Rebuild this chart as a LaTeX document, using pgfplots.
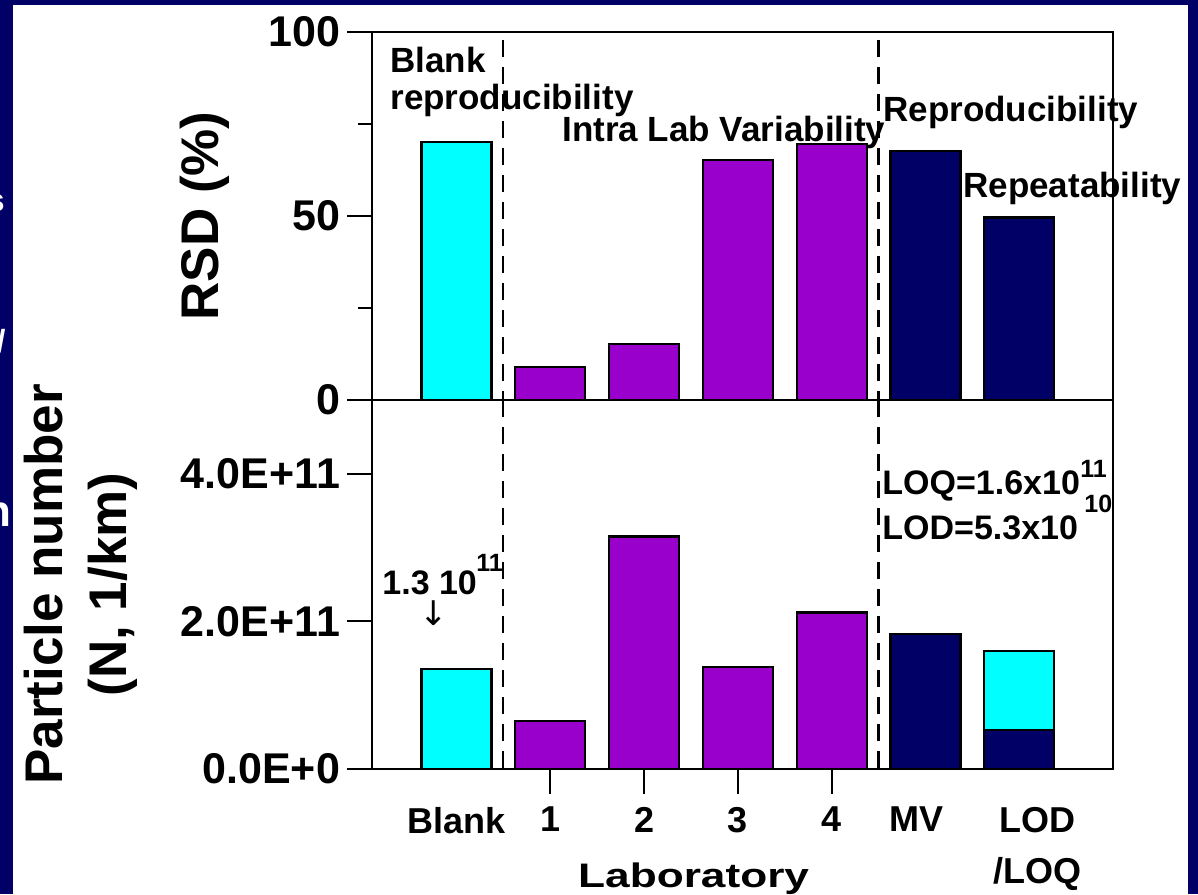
\documentclass[border=0pt]{standalone}
\usepackage{fontspec}
\setmainfont{Liberation Sans}
\newfontfamily\dejavu{DejaVu Sans}
\usepackage{graphicx}
\usepackage{pgfplots}
\pgfplotsset{compat=1.18}
\definecolor{bgnavy}{RGB}{0,0,102}
\definecolor{barnavy}{RGB}{0,0,102}
\definecolor{barcyan}{RGB}{0,255,255}
\definecolor{barpurple}{RGB}{153,0,204}
\newcommand\fs[2]{\fontsize{#1}{#2}\selectfont\bfseries}

\pgfplotsset{
  panel/.style={
    scale only axis, width=370.5pt,
    xmin=-0.9, xmax=7,
    axis line style={line width=1pt},
    tick style={line width=1pt, black},
    tick align=outside,
    major tick length=12.5pt,
    minor tick length=7pt,
    ytick pos=left,
    clip=false,
    scaled y ticks=false,
    /pgf/number format/assume math mode=true,
    ticklabel style={font=\fs{21.5}{24}},
  },
  mybar/.style={ybar, bar width=35pt, bar shift=0pt, draw=black, line width=1.1pt},
}
\tikzset{mydash/.style={line width=1.1pt, dash pattern=on 8.5pt off 5pt}}

\begin{document}
\begin{tikzpicture}
\path[use as bounding box] (0,0) rectangle (599pt,447pt);
\fill[bgnavy] (0,0) rectangle (599pt,447pt);
\fill[white] (6.5pt,0) rectangle (594pt,444.5pt);

% fragments of white text on the left strip
\begin{scope}
\clip (0,0) rectangle (6.5pt,447pt);
\begin{scope}[x=0.5pt,y=-0.5pt,shift={(0,447pt)}]
\node[white, font=\fs{16}{18}, anchor=base east, inner sep=0] at (5,212) {s};
\node[white, font=\fs{16}{18}, anchor=base east, inner sep=0] at (6,353) {/};
\node[white, font=\fs{22}{24}, anchor=base east, inner sep=0] at (12,527) {h};
\end{scope}
\end{scope}

% ---------- top panel: RSD ----------
\begin{axis}[panel, at={(186pt,247pt)}, anchor=south west, height=184pt,
  ymin=0, ymax=100, ytick={0,50,100}, minor ytick={25,75}, xtick=\empty,
  ylabel={RSD (\%)},
  ylabel style={font=\fs{26.5}{30}, at={(axis description cs:-0.2078,0.5)}, anchor=base}]
\addplot[mybar, fill=barcyan] coordinates {(0,70.2)};
\addplot[mybar, fill=barpurple] coordinates {(1,9.0) (2,15.2) (3,65.2) (4,69.5)};
\addplot[mybar, fill=barnavy] coordinates {(5,67.6) (6,49.6)};
\draw[mydash] (axis cs:0.5,97.8) -- (axis cs:0.5,0);
\draw[mydash] (axis cs:4.5,97.8) -- (axis cs:4.5,0);
\end{axis}

% ---------- bottom panel: particle number ----------
\begin{axis}[panel, at={(186pt,62.5pt)}, anchor=south west, height=184.5pt,
  ymin=0, ymax=5e11, ytick={0,2e11,4e11}, yticklabels={0.0E+0,2.0E+11,4.0E+11},
  xtick={1,2,3,4}, xticklabels={1,2,3,4}, xtick pos=bottom,
  extra x ticks={0,4.9,6.19}, extra x tick labels={Blank,MV,LOD\\/LOQ},
  extra x tick style={tick style={draw=none}},
  xticklabel style={font=\fs{18}{25.5}, align=center, yshift=-3pt},
  xlabel={\scalebox{1.3}[1]{Laboratory}},
  xlabel style={font=\fs{17}{20}, at={(axis description cs:0.434,0)}, anchor=base, yshift=-59pt},
  ylabel={Particle number\\(N, 1/km)},
  ylabel style={font=\fs{26.5}{32}, align=center, at={(axis description cs:-0.3927,0.5)}, anchor=center}]
\addplot[mybar, fill=barcyan] coordinates {(0,1.36e11)};
\addplot[mybar, fill=barpurple] coordinates {(1,0.65e11) (2,3.15e11) (3,1.38e11) (4,2.12e11)};
\addplot[mybar, fill=barnavy] coordinates {(5,1.83e11)};
\addplot[mybar, fill=barcyan] coordinates {(6,1.6e11)};
\addplot[mybar, fill=barnavy] coordinates {(6,0.53e11)};
\draw[mydash] (axis cs:0.5,5e11) -- (axis cs:0.5,0);
\draw[mydash] (axis cs:4.5,5e11) -- (axis cs:4.5,0);
\end{axis}

% ---------- annotations (pixel coordinates of the reference) ----------
\begin{scope}[x=0.5pt,y=-0.5pt,shift={(0,447pt)}]
\tikzset{ann/.style={anchor=base west, inner sep=0, font=\fs{17.5}{20}}}
\node[ann] at (390,73) {Blank};
\node[ann] at (390,110) {reproducibility};
\node[ann] at (562,142) {Intra Lab Variability};
\node[ann] at (883,122) {Reproducibility};
\node[ann] at (963,198) {Repeatability};
\node[ann, font=\fs{17}{20}] at (882,495) {LOQ=1.6x10};
\node[ann, font=\fs{12.5}{14}] at (1080,478) {11};
\node[ann, font=\fs{17}{20}] at (882,540) {LOD=5.3x10};
\node[ann, font=\fs{12.5}{14}] at (1084,513) {10};
\node[ann, font=\fs{17}{20}] at (382,595) {1.3 10};
\node[ann, font=\fs{12.5}{14}] at (476,572) {11};
\node[inner sep=0, font=\dejavu\fontsize{17}{20}\selectfont] at (434,613) {↓};
\end{scope}
\end{tikzpicture}
\end{document}
